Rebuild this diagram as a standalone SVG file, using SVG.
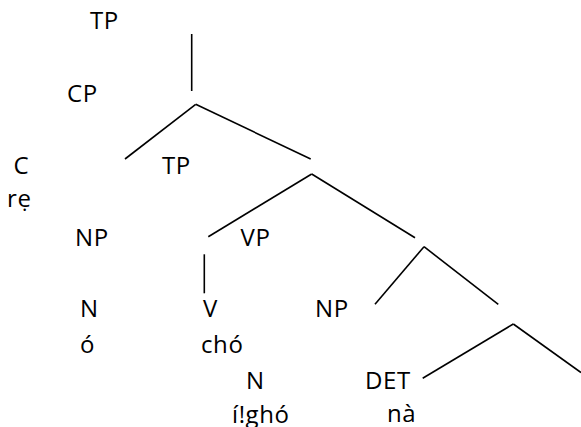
<svg xmlns="http://www.w3.org/2000/svg" width="581" height="427" viewBox="0 0 581 427">
<style>
text{font-family:"Open Sans","Liberation Sans",sans-serif;font-size:24px;letter-spacing:0.6px;fill:#000}
.e{stroke:#000;stroke-width:1.6;fill:none}
</style>
<rect width="581" height="427" fill="#fff"/>
<g id="connectors">
<line class="e" x1="191.7" y1="34" x2="191.7" y2="91"/>
<line class="e" x1="195.7" y1="104.3" x2="125" y2="159"/>
<line class="e" x1="195.7" y1="104.3" x2="310.7" y2="159"/>
<line class="e" x1="311.7" y1="174" x2="208.3" y2="236.7"/>
<line class="e" x1="311.7" y1="174" x2="415" y2="237.7"/>
<line class="e" x1="204.3" y1="254.3" x2="204.3" y2="293.3"/>
<line class="e" x1="424" y1="246.7" x2="375" y2="304.3"/>
<line class="e" x1="424" y1="246.7" x2="498.3" y2="304.3"/>
<line class="e" x1="513.3" y1="324" x2="422.7" y2="378.3"/>
<line class="e" x1="513.3" y1="324" x2="581" y2="372.5"/>
</g>
<g id="n-tp"><text x="90" y="28.5">TP</text></g>
<g id="n-cp"><text x="67" y="102">CP</text></g>
<g id="n-c"><text x="13.5" y="174">C</text><text x="7" y="206.5">rẹ</text></g>
<g id="n-tp2"><text x="162" y="174">TP</text></g>
<g id="n-np"><text x="75" y="245.5">NP</text></g>
<g id="n-vp"><text x="240.5" y="245.5">VP</text></g>
<g id="n-n"><text x="80" y="317">N</text><text x="80" y="352.5">ó</text></g>
<g id="n-v"><text x="203" y="317">V</text><text x="201" y="352.5">chó</text></g>
<g id="n-np2"><text x="315" y="316.5">NP</text></g>
<g id="n-n2"><text x="246" y="389">N</text><text x="232" y="422.5">í!ghó</text></g>
<g id="n-det"><text x="365" y="388.5">DET</text><text x="387" y="422">nà</text></g>
</svg>
